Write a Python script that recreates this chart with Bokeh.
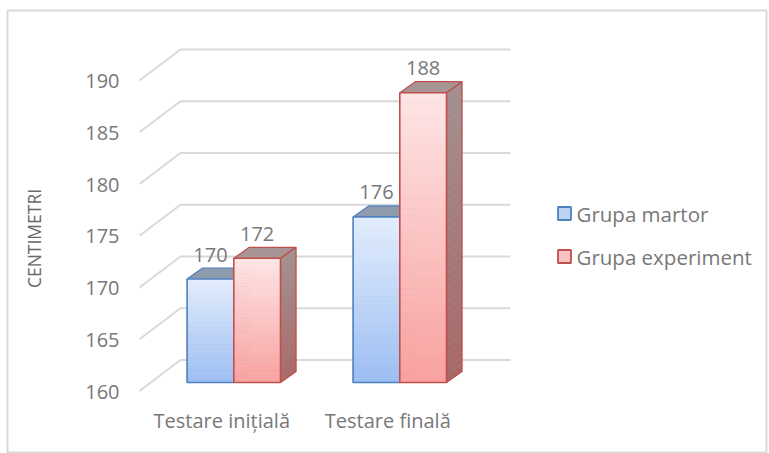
import math
from bokeh.plotting import figure
from bokeh.models import Range1d
from bokeh.core.properties import value
from bokeh.embed import file_html
from bokeh.resources import INLINE

# ---------------- data ----------------
categories = ["Testare inițială", "Testare finală"]
series_names = ["Grupa martor", "Grupa experiment"]
grupa_martor = [170, 176]
grupa_experiment = [172, 188]
y_ticks = [160, 165, 170, 175, 180, 185, 190]
y_title = "CENTIMETRI"
BASE = 160

# ---------------- layout / style ----------------
W, H = 769, 453
FL, FT, FR, FB = 7, 10, 3, 1          # frame borders (px)
PX_X = 166.0          # pixels per category step
PX_Y = 10.35          # pixels per cm
CAT0_PX = 233.3       # centre of first category (page x)
BASE_PY = 382.0       # baseline (160) page y

def px2x(px):
    return (px - CAT0_PX) / PX_X

def py2y(py):
    return BASE + (BASE_PY - py) / PX_Y

def ux(px):
    return px / PX_X

def uy(px):
    return px / PX_Y

FW, FH = W - FL - FR, H - FT - FB
x_start = px2x(FL)
x_end = x_start + FW / PX_X
y_end = py2y(FT)
y_start = y_end - FH / PX_Y

BW = ux(46.7)     # bar width
DX = ux(15.5)     # depth x
DY = uy(11)       # depth y

FONT = "Open Sans"
TXT = "#787878"
GRID = "#d9d9d9"

styles = [
    dict(top="#e2edfc", bottom="#9cbdf2", line="#4f81bd", cap="#8e9bad",
         side_top="#8796ad", side_bottom="#7489aa", legend="#bcd3f6"),
    dict(top="#fee5e5", bottom="#f8a1a0", line="#c0504d", cap="#a79595",
         side_top="#a39090", side_bottom="#a86767", legend="#fac3c3"),
]

def hex2rgb(h):
    h = h.lstrip("#")
    return tuple(int(h[i:i + 2], 16) for i in (0, 2, 4))

def lerp(c0, c1, t):
    a, b = hex2rgb(c0), hex2rgb(c1)
    return "#%02x%02x%02x" % tuple(int(round(a[i] + (b[i] - a[i]) * t)) for i in range(3))

p = figure(width=W, height=H, output_backend="svg", toolbar_location=None,
           x_range=Range1d(x_start, x_end), y_range=Range1d(y_start, y_end),
           x_axis_type=None, y_axis_type=None,
           min_border_left=FL, min_border_top=FT, min_border_right=FR, min_border_bottom=FB)
p.grid.visible = False
p.outline_line_color = GRID
p.outline_line_width = 2
p.background_fill_color = "white"
p.border_fill_color = "white"

# ---------------- gridlines (3D wall) ----------------
x_front = px2x(139)
x_back = px2x(180)
x_right = px2x(510)
g_xs, g_ys = [], []
for t in y_ticks:
    g_xs.append([x_front, x_back, x_right])
    g_ys.append([t - uy(8.5), t + uy(22.5), t + uy(22.5)])
p.multi_line(xs=g_xs, ys=g_ys, line_color=GRID, line_width=2)

# tick labels
p.text(x=[px2x(119)] * len(y_ticks), y=[t - uy(9) for t in y_ticks],
       text=[str(t) for t in y_ticks], text_align="right", text_baseline="middle",
       text_font=value(FONT), text_font_size=value("20px"), text_color=TXT)

# axis title
p.text(x=[px2x(33)], y=[py2y(238)], text=[y_title], angle=math.pi / 2,
       text_align="center", text_baseline="middle",
       text_font=value(FONT), text_font_size=value("17.5px"), text_color="#6a6a6a")

# category labels
p.text(x=[i + ux(-12) for i in range(len(categories))], y=[BASE - uy(38)] * len(categories),
       text=categories, text_align="center", text_baseline="middle",
       text_font=value(FONT), text_font_size=value("20px"), text_color=TXT)

# ---------------- bars ----------------
N = 40
for s, (vals, st) in enumerate(zip([grupa_martor, grupa_experiment], styles)):
    lefts = [i - BW if s == 0 else i for i in range(len(vals))]
    rights = [l + BW for l in lefts]

    # side faces (gradient)
    sx, sy, sc = [], [], []
    for l, r, v in zip(lefts, rights, vals):
        for k in range(N):
            y0 = BASE + (v - BASE) * k / N
            y1 = BASE + (v - BASE) * (k + 1) / N
            sx.append([r, r + DX, r + DX, r])
            sy.append([y0, y0 + DY, y1 + DY, y1])
            sc.append(lerp(st["side_bottom"], st["side_top"], (k + 0.5) / N))
    p.patches(xs=sx, ys=sy, fill_color=sc, line_color=sc, line_width=0.6)

    # top faces
    tx = [[l, r, r + DX, l + DX] for l, r in zip(lefts, rights)]
    ty = [[v, v, v + DY, v + DY] for v in vals]
    p.patches(xs=tx, ys=ty, fill_color=st["cap"], line_color=st["line"], line_width=1.2)

    # side outline
    ox = [[r, r + DX, r + DX, r] for r in rights]
    oy = [[BASE, BASE + DY, v + DY, v] for v in vals]
    p.patches(xs=ox, ys=oy, fill_color=None, line_color=st["line"], line_width=1.2)

    # front faces (gradient slices)
    fl, fr, fb, ft, fc = [], [], [], [], []
    for l, r, v in zip(lefts, rights, vals):
        for k in range(N):
            fl.append(l)
            fr.append(r)
            fb.append(BASE + (v - BASE) * k / N)
            ft.append(BASE + (v - BASE) * (k + 1) / N)
            fc.append(lerp(st["bottom"], st["top"], (k + 0.5) / N))
    p.quad(left=fl, right=fr, bottom=fb, top=ft, fill_color=fc, line_color=fc, line_width=0.6)
    p.quad(left=lefts, right=rights, bottom=[BASE] * len(vals), top=vals,
           fill_color=None, line_color=st["line"], line_width=1.6)

    # value labels
    p.text(x=[(l + r) / 2 for l, r in zip(lefts, rights)], y=[v + uy(24.5) for v in vals],
           text=[str(v) for v in vals], text_align="center", text_baseline="middle",
           text_font=value(FONT), text_font_size=value("20px"), text_color=TXT)

# ---------------- legend (drawn manually) ----------------
leg_y = [py2y(213), py2y(256)]
p.scatter(x=[px2x(564)] * 2, y=leg_y, marker="square", size=13,
          fill_color=[st["legend"] for st in styles], line_color=[st["line"] for st in styles],
          line_width=1.8)
p.text(x=[px2x(576)] * 2, y=leg_y, text=series_names, text_align="left", text_baseline="middle",
       text_font=value(FONT), text_font_size=value("20.5px"), text_color=TXT)

open("out.html", "w").write(file_html(p, INLINE))
